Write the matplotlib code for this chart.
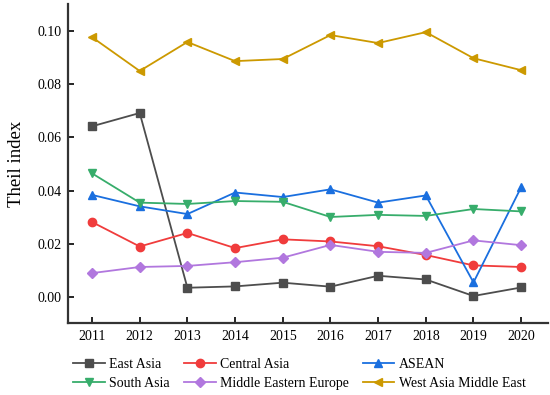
import matplotlib

matplotlib.use("Agg")
import matplotlib.pyplot as plt

plt.rcParams["font.family"] = ["Liberation Serif", "DejaVu Serif"]
plt.rcParams["mathtext.fontset"] = "stix"

years = [2011, 2012, 2013, 2014, 2015, 2016, 2017, 2018, 2019, 2020]

east_asia = [0.0642, 0.0692, 0.0035, 0.0040, 0.0054, 0.0039, 0.0080, 0.0066, 0.0004, 0.0036]
central_asia = [0.0282, 0.0190, 0.0241, 0.0184, 0.0217, 0.0209, 0.0191, 0.0158, 0.0119, 0.0113]
asean = [0.0384, 0.0341, 0.0312, 0.0393, 0.0376, 0.0405, 0.0355, 0.0382, 0.0055, 0.0413]
south_asia = [0.0465, 0.0355, 0.0350, 0.0361, 0.0358, 0.0301, 0.0309, 0.0305, 0.0331, 0.0322]
mid_east_europe = [0.0090, 0.0113, 0.0117, 0.0131, 0.0148, 0.0196, 0.0170, 0.0166, 0.0213, 0.0195]
west_asia_me = [0.0977, 0.0850, 0.0959, 0.0887, 0.0895, 0.0985, 0.0955, 0.0996, 0.0898, 0.0853]

series = [
    ("East Asia", east_asia, "#4d4d4d", "s"),
    ("Central Asia", central_asia, "#f03c3c", "o"),
    ("ASEAN", asean, "#1a6fdf", "^"),
    ("South Asia", south_asia, "#37ad6b", "v"),
    ("Middle Eastern Europe", mid_east_europe, "#b177de", "D"),
    ("West Asia Middle East", west_asia_me, "#cc9900", "<"),
]

fig, ax = plt.subplots(figsize=(5.5, 3.95), dpi=100)
fig.subplots_adjust(left=0.124, right=0.997, top=0.99, bottom=0.182)

handles = []
for name, vals, color, marker in series:
    ms = 5 if marker == "D" else 6
    (h,) = ax.plot(years, vals, color=color, marker=marker, markersize=ms, linewidth=1.3, label=name)
    handles.append(h)

ax.set_xlim(2010.5, 2020.57)
ax.set_ylim(-0.0098, 0.1102)
ax.set_xticks(years)
ax.set_yticks([0.00, 0.02, 0.04, 0.06, 0.08, 0.10])
ax.set_yticklabels(["0.00", "0.02", "0.04", "0.06", "0.08", "0.10"])
ax.set_ylabel("Theil index", fontsize=13.5, labelpad=9)
ax.tick_params(direction="in", labelsize=10, width=1.2, length=4, pad=5)

for side in ["top", "right"]:
    ax.spines[side].set_visible(False)
for side in ["left", "bottom"]:
    ax.spines[side].set_linewidth(1.6)
    ax.spines[side].set_color("#333333")

# legend fills row by row in the reference
order = [0, 3, 1, 4, 2, 5]
fig.legend([handles[i] for i in order], [series[i][0] for i in order],
           loc="upper left", bbox_to_anchor=(73 / 550, 1 - 358 / 395), ncol=3, frameon=False,
           fontsize=10, handlelength=2.3, handletextpad=0.3, columnspacing=1.0,
           labelspacing=0.4, borderaxespad=0, borderpad=0)

fig.savefig("out.png", dpi=100)
